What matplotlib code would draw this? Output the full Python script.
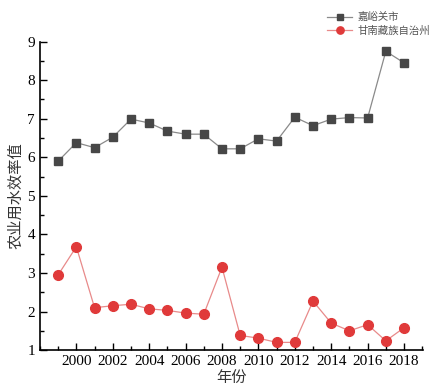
import numpy as np
import matplotlib
matplotlib.use("Agg")
from matplotlib import pyplot as plt
from matplotlib.ticker import MultipleLocator

plt.rcParams['font.family'] = ['Liberation Serif', 'Noto Sans CJK SC']

years = np.arange(1999, 2019)
jiayuguan = [5.90, 6.38, 6.25, 6.52, 6.99, 6.89, 6.68, 6.60, 6.60, 6.22,
             6.22, 6.48, 6.42, 7.04, 6.82, 6.99, 7.03, 7.02, 8.75, 8.45]
gannan = [2.95, 3.68, 2.10, 2.15, 2.19, 2.07, 2.03, 1.96, 1.93, 3.15,
          1.38, 1.31, 1.20, 1.20, 2.27, 1.70, 1.50, 1.66, 1.24, 1.58]
names = ['嘉峪关市', '甘南藏族自治州']

fig = plt.figure(figsize=(4.34, 3.89), dpi=100)
ax = fig.add_axes([0.092, 0.1, 0.883, 0.793])

ax.plot(years, jiayuguan, color='#8a8a8a', lw=0.9, marker='s', ms=6,
        mfc='#474747', mec='#474747', label=names[0])
ax.plot(years, gannan, color='#e88a8a', lw=0.9, marker='o', ms=7,
        mfc='#e03a3a', mec='#e03a3a', label=names[1])

ax.set_xlim(1998, 2019.05)
ax.set_ylim(1, 9)
ax.xaxis.set_minor_locator(MultipleLocator(1))
ax.yaxis.set_major_locator(MultipleLocator(1))
ax.yaxis.set_minor_locator(MultipleLocator(0.5))
ax.set_xticks(np.arange(2000, 2019, 2))
ax.tick_params(which='both', direction='in', labelsize=11, width=1)
ax.tick_params(which='major', length=5)
ax.tick_params(which='minor', length=3)
for s in ['top', 'right']:
    ax.spines[s].set_visible(False)
for s in ['left', 'bottom']:
    ax.spines[s].set_linewidth(1.2)

ax.set_xlabel('年份', fontsize=11, family='Noto Sans CJK SC', labelpad=1,
              color='#333333')
ax.set_ylabel('农业用水效率值', fontsize=11, family='Noto Sans CJK SC', labelpad=2,
              color='#333333')

leg = fig.legend(loc='upper right', bbox_to_anchor=(1.005, 0.985), frameon=False,
                 handlelength=2.4, handletextpad=0.5, markerscale=0.75,
                 labelspacing=0.35, borderaxespad=0.2,
                 prop={'family': 'Noto Sans CJK SC', 'size': 7.5})
for t in leg.get_texts():
    t.set_color('#555555')

fig.savefig('out.png', dpi=100)
